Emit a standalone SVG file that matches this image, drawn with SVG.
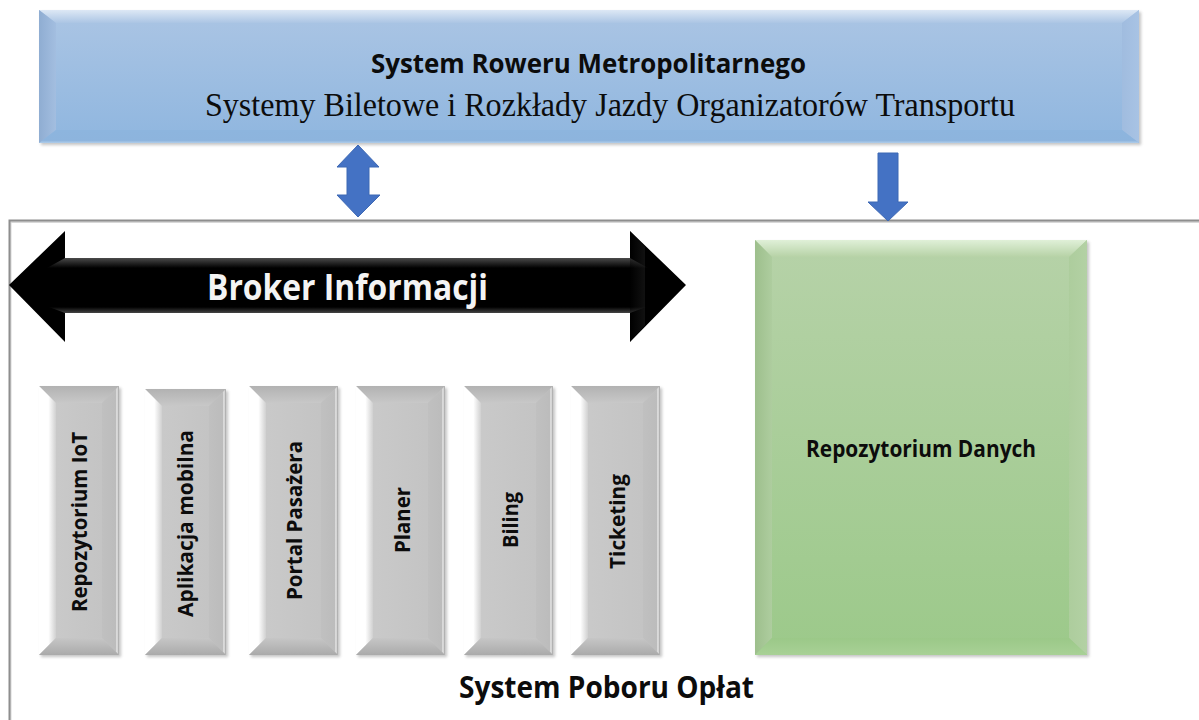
<svg xmlns="http://www.w3.org/2000/svg" width="1199" height="720" viewBox="0 0 1199 720">
<defs>
<linearGradient id="bf" x1="0" y1="0" x2="0" y2="1"><stop offset="0" stop-color="#abc5e4"/><stop offset="1" stop-color="#8fb6df"/></linearGradient>
<linearGradient id="bt" x1="0" y1="0" x2="0" y2="1"><stop offset="0" stop-color="#dde8f5"/><stop offset="1" stop-color="#abc5e4"/></linearGradient>
<linearGradient id="bl" x1="0" y1="0" x2="1" y2="0"><stop offset="0" stop-color="#8fadd2"/><stop offset="1" stop-color="#a3bee0"/></linearGradient>
<linearGradient id="br" x1="0" y1="0" x2="1" y2="0"><stop offset="0" stop-color="#a0bcdf"/><stop offset="1" stop-color="#a8c3e4"/></linearGradient>
<linearGradient id="bb" x1="0" y1="0" x2="0" y2="1"><stop offset="0" stop-color="#8db5de"/><stop offset="0.8" stop-color="#8db4dd"/><stop offset="1" stop-color="#b0cdea"/></linearGradient>
<linearGradient id="gf" x1="0" y1="0" x2="0" y2="1"><stop offset="0" stop-color="#b6d2a8"/><stop offset="1" stop-color="#9cc98a"/></linearGradient>
<linearGradient id="gt" x1="0" y1="0" x2="0" y2="1"><stop offset="0" stop-color="#e0f0d8"/><stop offset="1" stop-color="#b6d2a6"/></linearGradient>
<linearGradient id="gl" x1="0" y1="0" x2="1" y2="0"><stop offset="0" stop-color="#9dbf8c"/><stop offset="1" stop-color="#aecd9f"/></linearGradient>
<linearGradient id="gr" x1="0" y1="0" x2="1" y2="0"><stop offset="0" stop-color="#adcd9d"/><stop offset="1" stop-color="#b3d1a4"/></linearGradient>
<linearGradient id="gb" x1="0" y1="0" x2="0" y2="1"><stop offset="0" stop-color="#9bc888"/><stop offset="1" stop-color="#a8d196"/></linearGradient>
<linearGradient id="sf" x1="0" y1="0" x2="1" y2="0"><stop offset="0" stop-color="#cbcbcb"/><stop offset="1" stop-color="#c2c2c2"/></linearGradient>
<linearGradient id="st" x1="0" y1="0" x2="0" y2="1"><stop offset="0" stop-color="#b2b2b2"/><stop offset="1" stop-color="#c8c8c8"/></linearGradient>
<linearGradient id="sl" x1="0" y1="0" x2="1" y2="0"><stop offset="0" stop-color="#ffffff"/><stop offset="0.55" stop-color="#ffffff"/><stop offset="1" stop-color="#d0d0d0"/></linearGradient>
<linearGradient id="sr" x1="0" y1="0" x2="1" y2="0"><stop offset="0" stop-color="#c0c0c0"/><stop offset="0.8" stop-color="#bcbcbc"/><stop offset="0.88" stop-color="#e8e8e8"/><stop offset="1" stop-color="#a0a0a0"/></linearGradient>
<linearGradient id="sb" x1="0" y1="0" x2="0" y2="1"><stop offset="0" stop-color="#c6c6c6"/><stop offset="1" stop-color="#aaaaaa"/></linearGradient>
<linearGradient id="at" x1="0" y1="0" x2="0" y2="1"><stop offset="0" stop-color="#4a4a4a"/><stop offset="1" stop-color="#000000"/></linearGradient>
<linearGradient id="ab" x1="0" y1="0" x2="0" y2="1"><stop offset="0" stop-color="#000000"/><stop offset="1" stop-color="#444444"/></linearGradient>
<linearGradient id="ah" x1="0" y1="0" x2="1" y2="0"><stop offset="0" stop-color="#000000"/><stop offset="1" stop-color="#2a2a2a"/></linearGradient>
<filter id="sh" x="-5%" y="-5%" width="110%" height="110%"><feGaussianBlur stdDeviation="1.5"/></filter>
</defs>
<style>
.cal{font-family:"Open Sans","Liberation Sans",sans-serif;font-weight:700;fill:#0c0c0c}
.v{font-size:22px}
.ar{fill:#4472c4;stroke:#3d68b4;stroke-width:1}
.shd{fill:#8a8a8a;opacity:.5;filter:url(#sh)}
</style>
<rect width="1199" height="720" fill="#ffffff"/>

<g id="system-poboru-oplat">
<path d="M10.5 720V222H1199" fill="none" stroke="#d8d8d8" stroke-width="2"/>
<path d="M9.5 720V220.5H1199" fill="none" stroke="#8e8e8e" stroke-width="2"/>
<text class="cal" x="459" y="698" font-size="31" textLength="295" lengthAdjust="spacingAndGlyphs">System Poboru Opłat</text>
</g>

<g id="system-roweru">
<rect class="shd" x="41" y="12" width="1100" height="133"/>
<rect x="39" y="10" width="1100" height="133" fill="url(#bf)"/>
<polygon points="39,10 1139,10 1122,23 56,23" fill="url(#bt)"/>
<polygon points="39,10 56,23 56,130 39,143" fill="url(#bl)"/>
<polygon points="1139,10 1122,23 1122,130 1139,143" fill="url(#br)"/>
<polygon points="39,143 56,130 1122,130 1139,143" fill="url(#bb)"/>
<text class="cal" x="371" y="73" font-size="27" textLength="435" lengthAdjust="spacingAndGlyphs">System Roweru Metropolitarnego</text>
<text x="205" y="116" font-family="'Liberation Serif',serif" font-size="33" fill="#0c0c0c" textLength="810" lengthAdjust="spacingAndGlyphs">Systemy Biletowe i Rozkłady Jazdy Organizatorów Transportu</text>
</g>

<g id="connectors">
<polygon class="ar" points="358,145 379,167 369,167 369,195 380,195 358,217 337,195 347,195 347,167 337,167"/>
<polygon class="ar" points="878,153 898,153 898,202 908,202 888,221 868,202 878,202"/>
</g>

<g id="broker-informacji">
<polygon points="9,285 65,231 65,258 630,258 630,231 686,285 630,342 630,313 65,313 65,342" fill="#000000"/>
<polygon points="65,258 630,258 648,268 47,268" fill="url(#at)"/>
<polygon points="65,313 630,313 646,307 49,307" fill="url(#ab)"/>
<polygon points="630,231 645,247 645,325 630,342" fill="url(#ah)" opacity=".4"/>
<text x="207" y="300" class="cal" style="fill:#f4f4f4" font-size="36" textLength="281" lengthAdjust="spacingAndGlyphs">Broker Informacji</text>
</g>

<g id="repozytorium-danych">
<rect class="shd" x="757" y="242" width="332" height="415"/>
<rect x="755" y="240" width="332" height="415" fill="url(#gf)"/>
<polygon points="755,240 1087,240 1069,257 772,257" fill="url(#gt)"/>
<polygon points="755,240 772,257 772,638 755,655" fill="url(#gl)"/>
<polygon points="1087,240 1069,257 1069,638 1087,655" fill="url(#gr)"/>
<polygon points="755,655 772,638 1069,638 1087,655" fill="url(#gb)"/>
<text class="cal" x="806" y="457" font-size="22.5" textLength="230" lengthAdjust="spacingAndGlyphs">Repozytorium Danych</text>
</g>

<g id="repozytorium-iot">
<rect class="shd" x="41" y="388" width="80" height="269"/>
<rect x="39" y="386" width="80" height="269" fill="url(#sf)"/>
<polygon points="39,386 119,386 102,403 56,403" fill="url(#st)"/>
<polygon points="39,386 56,403 56,638 39,655" fill="url(#sl)"/>
<polygon points="119,386 102,403 102,638 119,655" fill="url(#sr)"/>
<polygon points="39,655 56,638 102,638 119,655" fill="url(#sb)"/>
<text class="cal v" transform="translate(87 612) rotate(-90)" textLength="180" lengthAdjust="spacingAndGlyphs">Repozytorium IoT</text>
</g>
<g id="aplikacja-mobilna">
<rect class="shd" x="147" y="391" width="81" height="266"/>
<rect x="145" y="389" width="81" height="266" fill="url(#sf)"/>
<polygon points="145,389 226,389 209,406 162,406" fill="url(#st)"/>
<polygon points="145,389 162,406 162,638 145,655" fill="url(#sl)"/>
<polygon points="226,389 209,406 209,638 226,655" fill="url(#sr)"/>
<polygon points="145,655 162,638 209,638 226,655" fill="url(#sb)"/>
<text class="cal v" transform="translate(193 617) rotate(-90)" textLength="187" lengthAdjust="spacingAndGlyphs">Aplikacja mobilna</text>
</g>
<g id="portal-pasazera">
<rect class="shd" x="251" y="388" width="89" height="269"/>
<rect x="249" y="386" width="89" height="269" fill="url(#sf)"/>
<polygon points="249,386 338,386 321,403 266,403" fill="url(#st)"/>
<polygon points="249,386 266,403 266,638 249,655" fill="url(#sl)"/>
<polygon points="338,386 321,403 321,638 338,655" fill="url(#sr)"/>
<polygon points="249,655 266,638 321,638 338,655" fill="url(#sb)"/>
<text class="cal v" transform="translate(302 600) rotate(-90)" textLength="159" lengthAdjust="spacingAndGlyphs">Portal Pasażera</text>
</g>
<g id="planer">
<rect class="shd" x="358" y="388" width="89" height="269"/>
<rect x="356" y="386" width="89" height="269" fill="url(#sf)"/>
<polygon points="356,386 445,386 428,403 373,403" fill="url(#st)"/>
<polygon points="356,386 373,403 373,638 356,655" fill="url(#sl)"/>
<polygon points="445,386 428,403 428,638 445,655" fill="url(#sr)"/>
<polygon points="356,655 373,638 428,638 445,655" fill="url(#sb)"/>
<text class="cal v" transform="translate(410 553) rotate(-90)" textLength="66" lengthAdjust="spacingAndGlyphs">Planer</text>
</g>
<g id="biling">
<rect class="shd" x="466" y="388" width="89" height="269"/>
<rect x="464" y="386" width="89" height="269" fill="url(#sf)"/>
<polygon points="464,386 553,386 536,403 481,403" fill="url(#st)"/>
<polygon points="464,386 481,403 481,638 464,655" fill="url(#sl)"/>
<polygon points="553,386 536,403 536,638 553,655" fill="url(#sr)"/>
<polygon points="464,655 481,638 536,638 553,655" fill="url(#sb)"/>
<text class="cal v" transform="translate(518 548) rotate(-90)" textLength="56" lengthAdjust="spacingAndGlyphs">Biling</text>
</g>
<g id="ticketing">
<rect class="shd" x="573" y="388" width="89" height="269"/>
<rect x="571" y="386" width="89" height="269" fill="url(#sf)"/>
<polygon points="571,386 660,386 643,403 588,403" fill="url(#st)"/>
<polygon points="571,386 588,403 588,638 571,655" fill="url(#sl)"/>
<polygon points="660,386 643,403 643,638 660,655" fill="url(#sr)"/>
<polygon points="571,655 588,638 643,638 660,655" fill="url(#sb)"/>
<text class="cal v" transform="translate(625 569) rotate(-90)" textLength="95" lengthAdjust="spacingAndGlyphs">Ticketing</text>
</g>
</svg>
